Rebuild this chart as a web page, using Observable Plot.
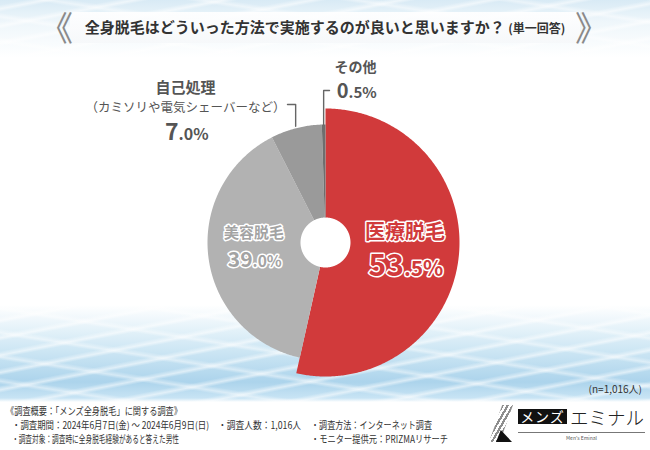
<!DOCTYPE html>
<html>
<head>
<meta charset="utf-8">
<script src="https://cdn.jsdelivr.net/npm/d3@7"></script>
<script src="https://cdn.jsdelivr.net/npm/@observablehq/plot@0.6"></script>
<style>
  html, body { margin: 0; padding: 0; background: #fff; }
  #chart { position: relative; width: 650px; height: 450px; overflow: hidden;
    font-family: 'Noto Sans CJK JP', 'Noto Sans', sans-serif; color: #333; }
  #bg { position: absolute; left: 0; top: 0; width: 650px; height: 450px;
    background:
      repeating-linear-gradient(-11deg, rgba(255,255,255,0) 0px, rgba(255,255,255,0) 10px, rgba(255,255,255,.55) 13px, rgba(255,255,255,0) 17px),
      repeating-linear-gradient(9deg, rgba(255,255,255,0) 0px, rgba(255,255,255,0) 17px, rgba(255,255,255,.45) 20px, rgba(255,255,255,0) 24px),
      linear-gradient(to bottom, rgba(255,255,255,0) 305px, rgba(200,228,243,.8) 345px, rgba(165,208,234,.92) 382px, rgba(190,223,242,.85) 398px, #fff 402px),
      linear-gradient(to bottom, rgba(212,232,244,.9) 0px, rgba(232,243,249,.7) 22px, rgba(255,255,255,0) 58px),
      #fff; }
  #band { position: absolute; left: 70px; top: 12px; width: 510px; height: 31px;
    background: linear-gradient(to bottom, rgba(255,255,255,.92), rgba(246,248,250,.92)); }
  #plot { position: absolute; left: 0; top: 0; }
  #title { position: absolute; left: 0; top: 16px; width: 650px; text-align: center;
    font-size: 15px; font-weight: bold; color: #333; line-height: 22px; white-space: nowrap; }
  #title .small { font-size: 12px; }
  .br { position: absolute; top: 8px; font-size: 34px; line-height: 38px; color: #8a8a8a; white-space: nowrap; }
  #n { position: absolute; right: 8px; top: 381px; font-size: 10px; color: #333; white-space: nowrap; }
  .ft { position: absolute; font-size: 10px; line-height: 12px; white-space: nowrap; color: #333;
    transform-origin: left center; }
  #stripes { position: absolute; left: 489px; top: 405px; width: 24px; height: 37px;
    background: repeating-linear-gradient(120deg, #fff 0px, #fff 2.2px, #8e8e8e 2.2px, #8e8e8e 4.4px);
    clip-path: polygon(55% 0, 100% 0, 45% 100%, 0 100%); }
  #foot { position: absolute; left: 496px; top: 430px; width: 16px; height: 12px; background: #111;
    clip-path: polygon(30% 0, 100% 100%, 0 100%); }
  #mens { position: absolute; left: 518px; top: 409px; width: 49px; height: 15px; background: #111; color: #fff;
    font-size: 14px; line-height: 15px; text-align: center; letter-spacing: 1px; white-space: nowrap; }
  #emi { position: absolute; left: 570px; top: 405px; font-size: 18.5px; line-height: 24px; color: #222; font-weight: 300;
    letter-spacing: 0px; white-space: nowrap; }
  #rule { position: absolute; left: 518px; top: 432px; width: 127px; height: 1px; background: #777; }
  #tag { position: absolute; left: 518px; top: 435px; width: 127px; text-align: center; font-size: 5px; line-height: 6px;
    color: #555; white-space: nowrap; }
</style>
</head>
<body>
<div id="chart">
  <div id="bg"></div>
  <div id="band"></div>
  <div id="plot"></div>
  <span class="br" style="left:39px">《</span>
  <span class="br" style="left:575px">》</span>
  <div id="title">全身脱毛はどういった方法で実施するのが良いと思いますか？ <span class="small">(単一回答)</span></div>
  <div id="n">(n=1,016人)</div>
  <span class="ft" data-w="176" style="left:6px; top:405px">《調査概要：「メンズ全身脱毛」に関する調査》</span>
  <span class="ft" data-w="197" style="left:12px; top:419px">・調査期間：2024年6月7日(金) ～ 2024年6月9日(日)</span>
  <span class="ft" data-w="83" style="left:218px; top:419px">・調査人数：1,016人</span>
  <span class="ft" data-w="121" style="left:311px; top:419px">・調査方法：インターネット調査</span>
  <span class="ft" data-w="167" style="left:12px; top:433px">・調査対象：調査時に全身脱毛経験があると答えた男性</span>
  <span class="ft" data-w="137" style="left:311px; top:433px">・モニター提供元：PRIZMAリサーチ</span>
  <div id="stripes"></div>
  <div id="foot"></div>
  <div id="mens">メンズ</div>
  <div id="emi">エミナル</div>
  <div id="rule"></div>
  <div id="tag">Men's Eminal</div>
</div>
<script>
// ---- data ----
const categories = ["医療脱毛", "美容脱毛", "自己処理", "その他"];
const values = [53.5, 39.0, 7.0, 0.5];
const subLabels = ["", "", "（カミソリや電気シェーバーなど）", ""];
const sliceColors = ["#d13a3b", "#b2b2b2", "#9a9a9a", "#6e6e6e"];

// ---- layout ----
const FONT = "'Noto Sans CJK JP', 'Noto Sans', sans-serif";
const W = 650, H = 450, CX = 325, CY = 242;
const R_IN = 25, R_OUT = 118, R_EXPLODE = 134;
const exploded = "医療脱毛";
const inside = {
  "医療脱毛": {r: 80, nameDy: -19, valDy: 25, nameSize: 20, intSize: 30, decSize: 21, fill: "#d13a3b"},
  "美容脱毛": {r: 72, nameDy: -18, valDy: 15, nameSize: 15, intSize: 21, decSize: 15.5, fill: "#a3a3a3"}
};
const outside = {
  "自己処理": {x: 185, nameY: 88, subY: 107, valY: 139, nameSize: 15, subSize: 12.5, intSize: 23, decSize: 16,
               lead: {elbowY: 104, endX: 287, rPad: 2}},
  "その他":   {x: 355, nameY: 67, valY: 97, nameSize: 14, intSize: 20, decSize: 15,
               lead: {elbowY: 90, endX: 329, rPad: 0}}
};
const labelGray = "#555";

// ---- geometry from data ----
const rows = categories.map((c, i) => ({name: c, value: values[i], sub: subLabels[i]}));
const arcs = d3.pie().sort(null).value(d => d.value)(rows);
const slicePts = [];
arcs.forEach(a => {
  const R = a.data.name === exploded ? R_EXPLODE : R_OUT;
  const n = Math.max(4, Math.ceil((a.endAngle - a.startAngle) / 0.01));
  for (let i = 0; i <= n; i++) {
    const t = a.startAngle + (a.endAngle - a.startAngle) * i / n;
    slicePts.push({name: a.data.name, x: CX + R * Math.sin(t), y: CY - R * Math.cos(t)});
  }
  for (let i = n; i >= 0; i--) {
    const t = a.startAngle + (a.endAngle - a.startAngle) * i / n;
    slicePts.push({name: a.data.name, x: CX + R_IN * Math.sin(t), y: CY - R_IN * Math.cos(t)});
  }
});

const charW = ch => /[0-9]/.test(ch) ? 0.54 : ch === "." ? 0.26 : ch === "%" ? 0.85 : 1;
const textW = (s, size) => [...s].reduce((acc, ch) => acc + charW(ch) * size, 0);

const marks = [];
marks.push(Plot.line(slicePts, {x: "x", y: "y", z: "name", fill: "name", stroke: "none", curve: "linear-closed"}));

function valueMarks(v, cx, baseY, intSize, decSize, style) {
  const s = v.toFixed(1);
  const [ip, dp] = s.split(".");
  const intT = ip, decT = "." + dp + "%";
  const wi = textW(intT, intSize), wd = textW(decT, decSize);
  const split = cx - (wi + wd) / 2 + wi;
  return [
    Plot.text([{x: split, y: baseY, t: intT}], {x: "x", y: "y", text: "t", textAnchor: "end", lineAnchor: "bottom",
      fontSize: intSize, fontWeight: "bold", fontFamily: FONT, ...style}),
    Plot.text([{x: split, y: baseY, t: decT}], {x: "x", y: "y", text: "t", textAnchor: "start", lineAnchor: "bottom",
      fontSize: decSize, fontWeight: "bold", fontFamily: FONT, ...style})
  ];
}

// leader lines
const leaderPts = [];
arcs.filter(a => outside[a.data.name]).forEach(a => {
  const L = outside[a.data.name].lead;
  const mid = (a.startAngle + a.endAngle) / 2;
  const r = R_OUT + L.rPad;
  const ex = CX + r * Math.sin(mid), ey = CY - r * Math.cos(mid);
  leaderPts.push({name: a.data.name, x: L.endX, y: L.elbowY}, {name: a.data.name, x: ex, y: L.elbowY}, {name: a.data.name, x: ex, y: ey});
});
marks.push(Plot.line(leaderPts, {x: "x", y: "y", z: "name", stroke: "#666", strokeWidth: 1.4}));

// inside labels
arcs.filter(a => inside[a.data.name]).forEach(a => {
  const L = inside[a.data.name];
  const mid = (a.startAngle + a.endAngle) / 2;
  const px = CX + L.r * Math.sin(mid), py = CY - L.r * Math.cos(mid);
  const style = {fill: L.fill, stroke: "white", strokeWidth: 3, paintOrder: "stroke"};
  marks.push(Plot.text([{x: px, y: py + L.nameDy, t: a.data.name}], {x: "x", y: "y", text: "t", lineAnchor: "middle",
    fontSize: L.nameSize, fontWeight: "bold", fontFamily: FONT, ...style}));
  marks.push(...valueMarks(a.data.value, px, py + L.valDy, L.intSize, L.decSize, style));
});

// outside labels
arcs.filter(a => outside[a.data.name]).forEach(a => {
  const L = outside[a.data.name];
  const style = {fill: labelGray};
  marks.push(Plot.text([{x: L.x, y: L.nameY, t: a.data.name}], {x: "x", y: "y", text: "t", lineAnchor: "middle",
    fontSize: L.nameSize, fontWeight: "bold", fontFamily: FONT, ...style}));
  if (a.data.sub) {
    marks.push(Plot.text([{x: L.x, y: L.subY, t: a.data.sub}], {x: "x", y: "y", text: "t", lineAnchor: "middle",
      fontSize: L.subSize, fontFamily: FONT, ...style}));
  }
  marks.push(...valueMarks(a.data.value, L.x, L.valY, L.intSize, L.decSize, style));
});

const chart = Plot.plot({
  width: W, height: H, margin: 0,
  x: {domain: [0, W], range: [0, W], axis: null},
  y: {domain: [0, H], range: [0, H], axis: null},
  color: {domain: categories, range: sliceColors},
  style: {background: "transparent", fontFamily: FONT},
  marks
});
document.getElementById("plot").appendChild(chart);

// fit footer lines to their measured widths
document.querySelectorAll(".ft").forEach(el => {
  const target = +el.dataset.w;
  const w = el.getBoundingClientRect().width;
  if (w > 0) el.style.transform = `scaleX(${target / w})`;
});
</script>
</body>
</html>
